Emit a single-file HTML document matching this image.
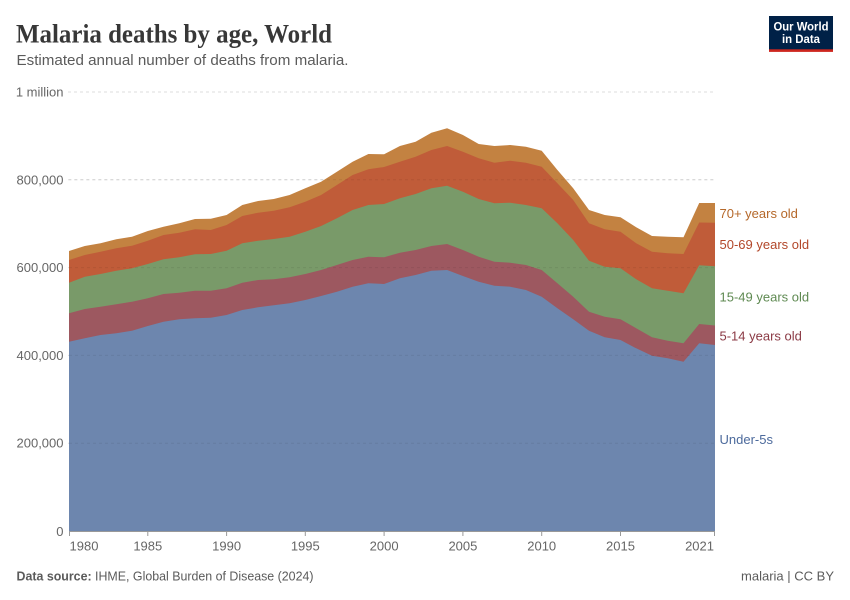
<!DOCTYPE html>
<html>
<head>
<meta charset="utf-8">
<style>
html,body{margin:0;padding:0;background:#fff;}
svg{display:block;}
.sans{font-family:"Liberation Sans",sans-serif;}
</style>
</head>
<body>
<svg width="850" height="600" viewBox="0 0 850 600" xmlns="http://www.w3.org/2000/svg">
<rect width="850" height="600" fill="#fff"/>
<!-- Title -->
<text x="16" y="42.5" style="font-family:'Liberation Serif','DejaVu Serif',serif;font-weight:bold;font-size:26px;" fill="#373737" textLength="316" lengthAdjust="spacingAndGlyphs">Malaria deaths by age, World</text>
<text class="sans" x="16.5" y="65" font-size="15" fill="#5b5b5b" textLength="332" lengthAdjust="spacingAndGlyphs">Estimated annual number of deaths from malaria.</text>

<!-- Logo -->
<rect x="769" y="16" width="64" height="33.5" fill="#002147"/>
<rect x="769" y="49.3" width="64" height="2.6" fill="#ce261e"/>
<text class="sans" x="801" y="30.5" font-size="12" font-weight="bold" fill="#fff" text-anchor="middle" textLength="55" lengthAdjust="spacingAndGlyphs">Our World</text>
<text class="sans" x="801" y="43" font-size="12" font-weight="bold" fill="#fff" text-anchor="middle" textLength="38" lengthAdjust="spacingAndGlyphs">in Data</text>

<!-- Gridlines (under) -->
<g stroke="#dddddd" stroke-width="1" stroke-dasharray="3,3">
<line x1="68" y1="92" x2="715" y2="92"/>
<line x1="68" y1="179.8" x2="715" y2="179.8"/>
<line x1="68" y1="267.6" x2="715" y2="267.6"/>
<line x1="68" y1="355.4" x2="715" y2="355.4"/>
<line x1="68" y1="443.2" x2="715" y2="443.2"/>
</g>

<!-- Areas -->
<polygon fill="#c38241" points="69,251 84.8,246 100.5,243.3 116.3,239.3 132,236.7 147.8,231 163.5,226.7 179.3,223.3 195,219 210.8,218.7 226.6,215 242.3,205 258.1,201 273.8,199 289.6,195 305.3,188.3 321.1,181.7 336.9,171.7 352.6,161.7 368.4,154 384.1,154.3 399.9,146 415.6,141.7 431.4,132.7 447.1,128.3 462.9,135 478.7,144 494.4,146 510.2,145 525.9,146.7 541.7,150.7 557.4,170 573.2,188.3 589,210 604.7,215 620.5,217.3 636.2,227.3 652,236 667.7,236.7 683.5,237.3 699.2,203 715,203 715,531 69,531"/>
<polygon fill="#c05c39" points="69,260 84.8,255 100.5,251.7 116.3,248.3 132,245.7 147.8,240.7 163.5,235 179.3,232.7 195,229.3 210.8,230 226.6,225 242.3,216 258.1,212.7 273.8,210.7 289.6,207.3 305.3,201.7 321.1,195 336.9,185 352.6,175 368.4,169.3 384.1,167 399.9,161.7 415.6,156.7 431.4,150 447.1,146 462.9,151.7 478.7,158.3 494.4,162.7 510.2,160.7 525.9,162.7 541.7,166.7 557.4,183.3 573.2,200 589,223.3 604.7,229.3 620.5,231.7 636.2,243.3 652,251.7 667.7,253.3 683.5,254 699.2,222.5 715,222.7 715,531 69,531"/>
<polygon fill="#799a69" points="69,282.7 84.8,276.7 100.5,274 116.3,270.7 132,268.3 147.8,264 163.5,259.3 179.3,257.3 195,254.3 210.8,254 226.6,250.7 242.3,243.3 258.1,240.7 273.8,239 289.6,236.7 305.3,231.7 321.1,226 336.9,218.3 352.6,210 368.4,205 384.1,204 399.9,198.3 415.6,194 431.4,188.3 447.1,185.7 462.9,191.7 478.7,199 494.4,203.3 510.2,202.7 525.9,205 541.7,208.3 557.4,223.3 573.2,240 589,260.7 604.7,266.7 620.5,268.3 636.2,279.3 652,288.3 667.7,290.7 683.5,293.3 699.2,265.3 715,266.3 715,531 69,531"/>
<polygon fill="#9d5860" points="69,313.3 84.8,309 100.5,306.7 116.3,304.3 132,301.7 147.8,298.3 163.5,294 179.3,292.7 195,290.7 210.8,290.7 226.6,288.3 242.3,282.7 258.1,280 273.8,279.3 289.6,277.3 305.3,274 321.1,270 336.9,265 352.6,260 368.4,256.7 384.1,257.3 399.9,252.7 415.6,250 431.4,246 447.1,244 462.9,250 478.7,256.7 494.4,261.7 510.2,262.7 525.9,265 541.7,270 557.4,283.3 573.2,296.7 589,311.7 604.7,316.7 620.5,319.3 636.2,328.3 652,337.3 667.7,340.7 683.5,343.3 699.2,324 715,325.5 715,531 69,531"/>
<polygon fill="#6d86ae" points="69,341.7 84.8,338.3 100.5,335 116.3,333.3 132,330.7 147.8,326 163.5,321.7 179.3,319.3 195,318.3 210.8,317.7 226.6,315 242.3,310 258.1,307.3 273.8,305.3 289.6,303.3 305.3,300 321.1,296 336.9,291.7 352.6,286.7 368.4,283.3 384.1,284 399.9,278.3 415.6,275 431.4,270.7 447.1,270 462.9,276 478.7,281.7 494.4,285.7 510.2,286.7 525.9,290 541.7,296.7 557.4,308.3 573.2,319.3 589,330.7 604.7,337.3 620.5,340 636.2,348.3 652,355.7 667.7,358.3 683.5,361.7 699.2,343.3 715,345 715,531 69,531"/>

<!-- Gridlines faint over areas -->
<g stroke="#000" stroke-opacity="0.07" stroke-width="1" stroke-dasharray="3,3">
<line x1="69" y1="179.8" x2="715" y2="179.8"/>
<line x1="69" y1="267.6" x2="715" y2="267.6"/>
<line x1="69" y1="355.4" x2="715" y2="355.4"/>
<line x1="69" y1="443.2" x2="715" y2="443.2"/>
</g>

<!-- Axis -->
<line x1="69" y1="531.5" x2="715" y2="531.5" stroke="#999" stroke-width="1"/>
<g stroke="#999" stroke-width="1">
<line x1="69.5" y1="531" x2="69.5" y2="536"/>
<line x1="147.8" y1="531" x2="147.8" y2="536"/>
<line x1="226.6" y1="531" x2="226.6" y2="536"/>
<line x1="305.3" y1="531" x2="305.3" y2="536"/>
<line x1="384.1" y1="531" x2="384.1" y2="536"/>
<line x1="462.9" y1="531" x2="462.9" y2="536"/>
<line x1="541.7" y1="531" x2="541.7" y2="536"/>
<line x1="620.5" y1="531" x2="620.5" y2="536"/>
<line x1="714.5" y1="531" x2="714.5" y2="536"/>
</g>

<!-- Y labels -->
<g class="sans" font-size="13" fill="#666" text-anchor="end">
<text x="63.5" y="96.5">1 million</text>
<text x="63.5" y="184.3">800,000</text>
<text x="63.5" y="272.1">600,000</text>
<text x="63.5" y="359.9">400,000</text>
<text x="63.5" y="447.7">200,000</text>
<text x="63.5" y="536">0</text>
</g>

<!-- X labels -->
<g class="sans" font-size="13" fill="#666" text-anchor="middle">
<text x="69.5" y="550.7" text-anchor="start">1980</text>
<text x="147.8" y="550.7">1985</text>
<text x="226.6" y="550.7">1990</text>
<text x="305.3" y="550.7">1995</text>
<text x="384.1" y="550.7">2000</text>
<text x="462.9" y="550.7">2005</text>
<text x="541.7" y="550.7">2010</text>
<text x="620.5" y="550.7">2015</text>
<text x="714" y="550.7" text-anchor="end">2021</text>
</g>

<!-- Legend labels -->
<g class="sans" font-size="13">
<text x="719.5" y="218" fill="#b5682a">70+ years old</text>
<text x="719.5" y="249" fill="#b2472a">50-69 years old</text>
<text x="719.5" y="301.4" fill="#5f8a52">15-49 years old</text>
<text x="719.5" y="340.7" fill="#8b3a45">5-14 years old</text>
<text x="719.5" y="444" fill="#4c6a9c">Under-5s</text>
</g>

<!-- Footer -->
<text class="sans" x="16.5" y="580.7" font-size="13" fill="#5b5b5b" textLength="297" lengthAdjust="spacingAndGlyphs"><tspan font-weight="bold">Data source:</tspan> IHME, Global Burden of Disease (2024)</text>
<text class="sans" x="834" y="580.7" font-size="13" fill="#5b5b5b" text-anchor="end">malaria | CC BY</text>
</svg>
</body>
</html>
